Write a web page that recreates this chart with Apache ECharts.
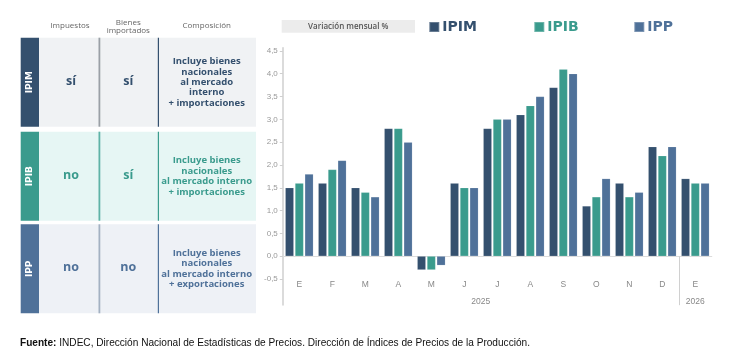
<!DOCTYPE html>
<html><head><meta charset="utf-8">
<script src="https://cdn.jsdelivr.net/npm/echarts@6/dist/echarts.min.js"></script>
<style>html,body{margin:0;padding:0;background:#fff}#c{width:730px;height:358px}</style>
</head><body><div id="c"></div>
<script>
// ---- chart data ----
const months = ['E','F','M','A','M','J','J','A','S','O','N','D','E'];
const ipim = [1.5,1.6,1.5,2.8,-0.3,1.6,2.8,3.1,3.7,1.1,1.6,2.4,1.7];
const ipib = [1.6,1.9,1.4,2.8,-0.3,1.5,3.0,3.3,4.1,1.3,1.3,2.2,1.6];
const ipp  = [1.8,2.1,1.3,2.5,-0.2,1.5,3.0,3.5,4.0,1.7,1.4,2.4,1.6];
const yTicks = [-0.5,0,0.5,1,1.5,2,2.5,3,3.5,4,4.5];
const years = ['2025','2026'];
const yearCenters = [6, 12.5];
const yearBreaks = [12];
const seriesNames = ['IPIM','IPIB','IPP'];
const seriesColors = ['#34506e','#3a9b8d','#4f7199'];

// ---- table content ----
const headers = [['Impuestos'],['Bienes','importados'],['Composición']];
const rowNames = ['IPIM','IPIB','IPP'];
const rowImpuestos = ['sí','no','no'];
const rowBienes = ['sí','sí','no'];
const rowComp = [
  ['Incluye bienes','nacionales','al mercado','interno','+ importaciones'],
  ['Incluye bienes','nacionales','al mercado interno','+ importaciones'],
  ['Incluye bienes','nacionales','al mercado interno','+ exportaciones']
];

// ---- layout / style ----
const rowY = [[37.7,126.7],[131.7,220.7],[224.3,313.3]];
const rowBg = ['#f0f2f4','#e6f6f4','#eef1f6'];
const rowLabelBg = ['#34506e','#3a9b8d','#4f7199'];
const rowText = ['#34506e','#3a9b8d','#4f7199'];
const rowSep1 = ['#9aa0a6','#5fb3a7','#a3b1c2'];
const rowSep2 = ['#34506e','#3a9b8d','#4f7199'];
const fontMain = '"Open Sans", Lato, sans-serif';

const graphics = [];
// headers
const hx = [70, 128.3, 206.7];
headers.forEach((h,i)=>{
  h.forEach((t,j)=>{
    const y = h.length === 1 ? 26 : (j===0 ? 22.5 : 30.7);
    graphics.push({type:'text', style:{x:hx[i], y:y, text:t, align:'center', verticalAlign:'middle', fill:'#666', font:'8px ' + fontMain}});
  });
});
rowNames.forEach((n,i)=>{
  const [y0,y1] = rowY[i];
  const cy = (y0+y1)/2;
  graphics.push({type:'rect', shape:{x:38.5, y:y0, width:217.5, height:y1-y0}, style:{fill:rowBg[i]}});
  graphics.push({type:'rect', shape:{x:20.7, y:y0, width:18.3, height:y1-y0}, style:{fill:rowLabelBg[i]}});
  graphics.push({type:'text', x:29.8, y:cy, rotation:Math.PI/2, style:{x:0, y:0, text:n, align:'center', verticalAlign:'middle', fill:'#fff', font:'bold 9px "DejaVu Sans", sans-serif'}});
  graphics.push({type:'rect', shape:{x:98.5, y:y0, width:1.8, height:y1-y0}, style:{fill:rowSep1[i]}});
  graphics.push({type:'rect', shape:{x:157.8, y:y0, width:1.2, height:y1-y0}, style:{fill:rowSep2[i]}});
  graphics.push({type:'text', style:{x:71, y:cy-1, text:rowImpuestos[i], align:'center', verticalAlign:'middle', fill:rowText[i], font:'bold 12.5px ' + fontMain}});
  graphics.push({type:'text', style:{x:128.3, y:cy-1, text:rowBienes[i], align:'center', verticalAlign:'middle', fill:rowText[i], font:'bold 12.5px ' + fontMain}});
  const lines = rowComp[i];
  const step = 10.4;
  lines.forEach((t,j)=>{
    graphics.push({type:'text', style:{x:206.7, y:cy + (j-(lines.length-1)/2)*step, text:t, align:'center', verticalAlign:'middle', fill:rowText[i], font:'bold 9.5px ' + fontMain}});
  });
});
// chart header box
graphics.push({type:'rect', shape:{x:281.7, y:20, width:133.3, height:12.7}, style:{fill:'#ececec'}});
graphics.push({type:'text', style:{x:348.3, y:26.5, text:'Variación mensual %', align:'center', verticalAlign:'middle', fill:'#555', font:'600 8px ' + fontMain}});
// footer
graphics.push({type:'text', style:{x:20, y:343, verticalAlign:'middle',
  text:'{b|Fuente:} INDEC, Dirección Nacional de Estadísticas de Precios. Dirección de Índices de Precios de la Producción.',
  rich:{b:{fontWeight:'bold', fontFamily:'"Liberation Sans", Arial, sans-serif', fontSize:10.1, fill:'#111'}},
  font:'10.1px "Liberation Sans", Arial, sans-serif', fill:'#111'}});

const legendLeft = [428.3, 533.3, 633.3];
const legends = seriesNames.map((n,i)=>({
  data:[n], left:legendLeft[i], top:20, padding:0, icon:'rect', itemWidth:10, itemHeight:10, itemGap:0,
  textStyle:{color:seriesColors[i], fontWeight:'bold', fontSize:14, fontFamily:'"DejaVu Sans", sans-serif', padding:[0,0,0,-2]},
  selectedMode:false
}));

const mk = (name, data, color) => ({
  name, type:'bar', data, barWidth:8.5, barGap:'15%', xAxisIndex:0,
  itemStyle:{color, borderColor:'rgba(255,255,255,0.25)', borderWidth:0.5},
  animation:false
});

const chart = echarts.init(document.getElementById('c'), null, {renderer:'canvas'});
chart.setOption({
  animation:false,
  legend: legends,
  grid:{left:282.8, right:18.2, top:47.7, bottom:53, containLabel:false},
  xAxis:[
    {type:'category', data:months, position:'bottom', offset:-48.8,
     axisLine:{show:true, onZero:false, lineStyle:{color:'#dcdcdc', width:1}},
     axisTick:{show:false}, axisLabel:{margin:24, color:'#888', fontSize:8.5, fontFamily:'"Liberation Sans", Arial, sans-serif'}},
    {type:'value', min:0, max:13, position:'bottom', offset:-48.8,
     axisLine:{show:false, onZero:false}, splitLine:{show:false},
     axisTick:{show:true, customValues:yearBreaks, length:49, lineStyle:{color:'#d0d0d0', width:1}},
     axisLabel:{customValues:yearCenters, margin:41, color:'#888', fontSize:8.5, fontFamily:'"Liberation Sans", Arial, sans-serif',
       formatter:(v)=>{const k = yearCenters.indexOf(v); return k>=0 ? years[k] : '';}}}
  ],
  yAxis:{type:'value', min:-1.07, max:4.57,
    axisLine:{show:true, lineStyle:{color:'#cfcfcf', width:1.5}},
    axisTick:{show:true, customValues:yTicks, length:3, lineStyle:{color:'#cfcfcf'}},
    splitLine:{show:false},
    axisLabel:{customValues:yTicks, margin:5, color:'#999', fontSize:8, fontFamily:'"Liberation Sans", Arial, sans-serif',
      formatter:(v)=>v.toFixed(1).replace('.',',')}},
  series:[mk(seriesNames[0], ipim, seriesColors[0]), mk(seriesNames[1], ipib, seriesColors[1]), mk(seriesNames[2], ipp, seriesColors[2])],
  graphic: graphics
});
</script></body></html>
